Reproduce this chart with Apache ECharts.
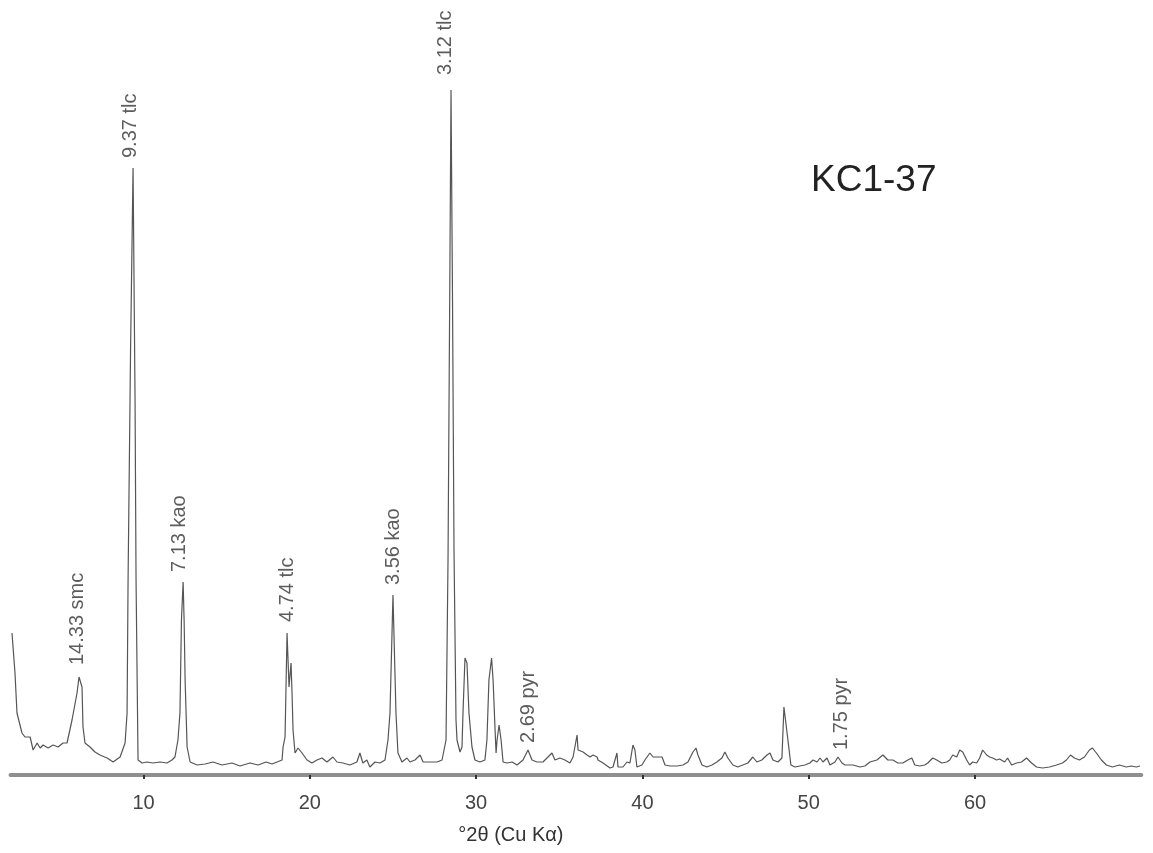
<!DOCTYPE html>
<html>
<head>
<meta charset="utf-8">
<title>KC1-37 XRD pattern</title>
<script src="https://cdn.jsdelivr.net/npm/echarts@6/dist/echarts.min.js"></script>
<style>
  html, body { margin: 0; padding: 0; background: #fff; }
  #main { width: 1153px; height: 853px; }
</style>
</head>
<body>
<div id="main"></div>
<script>
// diffractogram: 2theta (deg) and counts (arbitrary units)
var twoTheta = [
  2.09, 2.27, 2.39, 2.69, 2.87, 3.18, 3.36, 3.60, 3.78, 3.96, 4.26, 4.56, 4.86, 5.16, 5.40, 5.70, 6.00, 6.12, 6.30, 6.36,
  6.48, 6.78, 7.08, 7.20, 7.38, 7.81, 8.17, 8.59, 8.89, 9.01, 9.07, 9.22, 9.37, 9.49, 9.55, 9.67, 9.91, 10.21, 10.57, 10.99,
  11.41, 11.71, 11.89, 12.07, 12.19, 12.28, 12.38, 12.44, 12.50, 12.62, 12.80, 13.22, 13.70, 14.18, 14.72, 15.32, 15.80, 16.40, 16.89, 17.37,
  17.73, 18.03, 18.33, 18.39, 18.51, 18.63, 18.75, 18.87, 18.93, 18.99, 19.11, 19.29, 19.53, 19.83, 20.13, 20.43, 20.73, 21.03, 21.39, 21.63,
  21.99, 22.41, 22.83, 23.01, 23.19, 23.43, 23.61, 23.92, 24.22, 24.52, 24.70, 24.82, 25.00, 25.18, 25.30, 25.54, 25.84, 26.02, 26.32, 26.63,
  26.81, 27.23, 27.65, 27.95, 28.19, 28.31, 28.43, 28.49, 28.58, 28.67, 28.79, 28.85, 29.03, 29.15, 29.21, 29.33, 29.45, 29.57, 29.75, 29.93,
  30.23, 30.53, 30.65, 30.77, 30.93, 31.02, 31.14, 31.20, 31.26, 31.38, 31.50, 31.62, 31.86, 32.16, 32.46, 32.82, 33.12, 33.36, 33.66, 34.02,
  34.32, 34.56, 34.74, 35.04, 35.34, 35.64, 35.83, 36.07, 36.13, 36.43, 36.67, 36.85, 37.03, 37.27, 37.33, 37.63, 38.05, 38.23, 38.47, 38.53,
  38.83, 39.07, 39.25, 39.43, 39.55, 39.67, 39.97, 40.15, 40.45, 40.64, 40.94, 41.18, 41.36, 41.66, 42.08, 42.44, 42.74, 43.04, 43.22, 43.34,
  43.58, 43.88, 44.18, 44.48, 44.78, 44.96, 45.14, 45.44, 45.74, 46.04, 46.34, 46.64, 46.88, 47.18, 47.49, 47.67, 47.85, 48.15, 48.39, 48.51,
  48.63, 48.75, 48.93, 49.17, 49.47, 49.77, 50.07, 50.26, 50.50, 50.68, 50.86, 51.10, 51.28, 51.58, 51.76, 52.00, 52.18, 52.66, 53.08, 53.38,
  53.68, 54.10, 54.46, 54.76, 55.06, 55.36, 55.66, 55.96, 56.20, 56.38, 56.68, 56.98, 57.16, 57.46, 57.70, 58.00, 58.30, 58.48, 58.66, 58.90,
  59.08, 59.26, 59.50, 59.68, 59.86, 60.10, 60.28, 60.46, 60.70, 60.88, 61.06, 61.30, 61.48, 61.78, 61.96, 62.20, 62.50, 62.80, 63.10, 63.40,
  63.70, 64.06, 64.48, 64.90, 65.26, 65.50, 65.74, 65.98, 66.28, 66.58, 66.88, 67.06, 67.30, 67.60, 67.90, 68.26, 68.68, 69.10, 69.40, 69.70,
  69.92
];
var counts = [
  142, 102, 62, 42, 38, 38, 25, 32, 27, 30, 27, 30, 28, 32, 32, 55, 82, 98, 88, 48,
  32, 28, 23, 22, 20, 17, 13, 18, 32, 62, 195, 425, 607, 375, 195, 15, 12, 13, 12, 13,
  12, 15, 18, 35, 62, 155, 193, 155, 95, 28, 13, 10, 11, 13, 10, 12, 9, 12, 10, 13,
  11, 13, 15, 28, 38, 142, 88, 112, 82, 45, 22, 27, 22, 15, 12, 15, 17, 13, 18, 13,
  12, 10, 13, 22, 12, 15, 8, 13, 12, 15, 35, 62, 180, 62, 22, 13, 17, 13, 15, 20,
  13, 13, 13, 15, 35, 215, 525, 685, 475, 225, 55, 35, 23, 28, 62, 117, 112, 62, 28, 15,
  13, 15, 35, 95, 117, 95, 45, 22, 35, 50, 35, 13, 12, 13, 10, 15, 25, 15, 13, 13,
  18, 22, 15, 17, 15, 12, 18, 40, 25, 23, 20, 18, 20, 18, 15, 12, 7, 8, 22, 8,
  8, 13, 12, 30, 25, 8, 10, 15, 22, 18, 18, 18, 10, 9, 9, 10, 13, 23, 27, 20,
  10, 8, 10, 13, 17, 23, 17, 10, 8, 10, 12, 18, 13, 15, 20, 22, 15, 13, 17, 68,
  67, 35, 10, 8, 9, 10, 12, 15, 13, 17, 13, 17, 10, 13, 18, 12, 10, 10, 8, 9,
  13, 15, 20, 15, 15, 12, 12, 15, 17, 10, 9, 10, 12, 17, 15, 12, 13, 15, 20, 18,
  25, 23, 15, 10, 13, 12, 17, 25, 20, 18, 17, 15, 16, 13, 17, 10, 12, 13, 17, 12,
  8, 7, 8, 10, 12, 15, 20, 17, 15, 18, 25, 27, 22, 15, 10, 8, 10, 8, 9, 8,
  9
];

// peak annotations: d-spacing + mineral, placed at (2theta, counts)
var peakNames = ['14.33 smc', '9.37 tlc', '7.13 kao', '4.74 tlc', '3.56 kao', '3.12 tlc', '2.69 pyr', '1.75 pyr'];
var peakTheta = [6.00, 9.19, 12.19, 18.63, 25.06, 28.13, 33.12, 52.00];
var peakCounts = [110, 617, 203, 153, 190, 700, 32, 25];

var xTicks = [10, 20, 30, 40, 50, 60];

var chart = echarts.init(document.getElementById('main'));

var option = {
  animation: false,
  backgroundColor: '#fff',
  title: {
    text: 'KC1-37',
    left: 811,
    top: 162,
    padding: 0,
    textStyle: { fontFamily: 'Liberation Sans', fontSize: 37, fontWeight: 'normal', color: '#222' }
  },
  grid: { left: 10.5, right: 11.7, top: 75, bottom: 78 },
  xAxis: {
    type: 'value',
    min: 2,
    max: 70,
    name: '°2θ (Cu Kα)',
    nameLocation: 'middle',
    nameGap: 50,
    nameTextStyle: { fontFamily: 'Liberation Sans', fontSize: 20, color: '#333', padding: [0, 130, 0, 0] },
    axisLine: { lineStyle: { color: '#8f8f8f', width: 4 } },
    axisTick: { customValues: xTicks, length: 4, lineStyle: { color: '#333', width: 2 } },
    axisLabel: { customValues: xTicks, margin: 18, fontFamily: 'Liberation Sans', fontSize: 20, color: '#444' },
    splitLine: { show: false }
  },
  yAxis: {
    type: 'value',
    min: 0,
    max: 700,
    show: false
  },
  series: [
    {
      type: 'line',
      data: twoTheta.map(function (t, i) { return [t, counts[i]]; }),
      showSymbol: false,
      symbol: 'none',
      lineStyle: { color: '#555', width: 1.2 },
      silent: true
    },
    {
      type: 'scatter',
      symbolSize: 0,
      data: peakNames.map(function (n, i) {
        return { name: n, value: [peakTheta[i], peakCounts[i]] };
      }),
      label: {
        show: true,
        position: [0, 0],
        rotate: 90,
        align: 'left',
        verticalAlign: 'middle',
        formatter: function (p) { return p.name; },
        fontFamily: 'Liberation Sans',
        fontSize: 20,
        color: '#333'
      },
      silent: true
    }
  ]
};

chart.setOption(option);
</script>
</body>
</html>
